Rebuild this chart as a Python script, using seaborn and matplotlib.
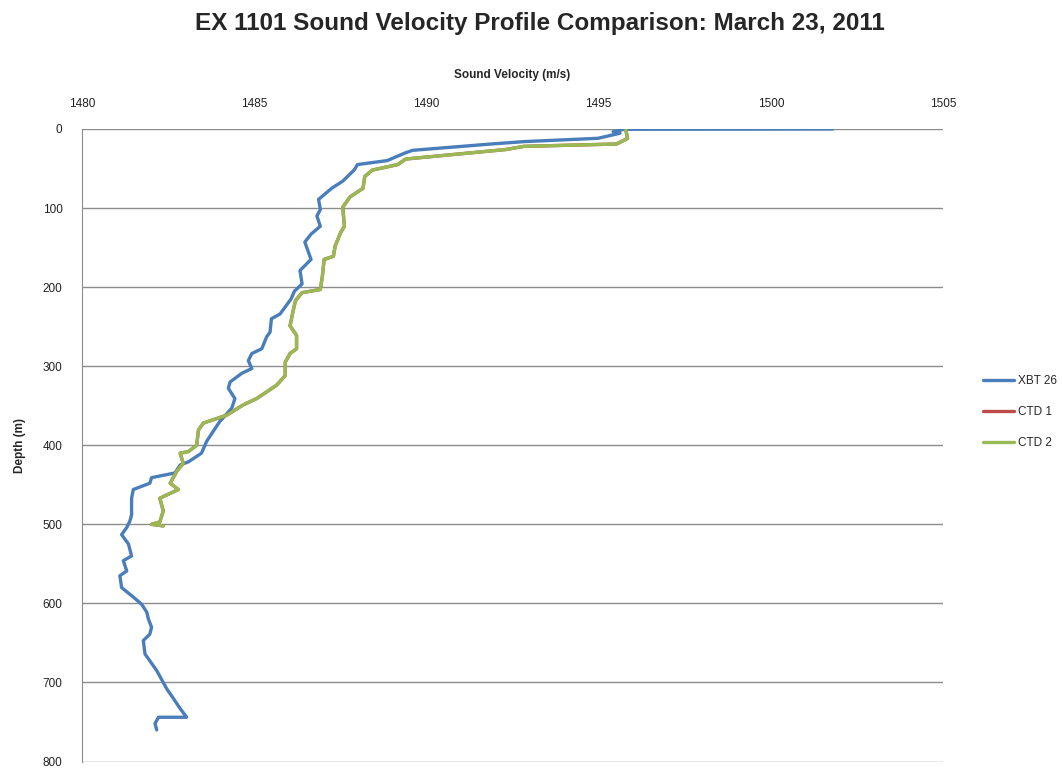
import matplotlib
matplotlib.use("Agg")
import matplotlib.pyplot as plt
import seaborn as sns
import pandas as pd

# XBT 26 profile (velocity m/s, depth m)
xbt_vel = [1501.8, 1495.74, 1495.42, 1495.62, 1494.98, 1492.83, 1491.88, 1489.6, 1489.4,
           1488.86, 1488.0, 1487.9, 1487.57, 1487.25, 1486.87, 1486.92, 1486.82, 1486.92,
           1486.65, 1486.47, 1486.65, 1486.33, 1486.39, 1486.17, 1486.07, 1485.75, 1485.5,
           1485.46, 1485.36, 1485.22, 1484.93, 1484.83, 1484.93, 1484.64, 1484.3, 1484.25,
           1484.44, 1484.35, 1484.0, 1483.8, 1483.62, 1483.47, 1483.09, 1482.85, 1482.7,
           1482.02, 1481.97, 1481.49, 1481.44, 1481.44, 1481.39, 1481.3, 1481.15, 1481.35,
           1481.44, 1481.2, 1481.3, 1481.1, 1481.15, 1481.49, 1481.73, 1481.88, 1481.93,
           1482.02, 1481.97, 1481.78, 1481.83, 1482.17, 1482.46, 1482.65, 1482.85, 1483.04,
           1482.22, 1482.12, 1482.17]
xbt_depth = [0, 0.4, 3.4, 5.4, 11.8, 16, 19, 27, 30,
             40, 45, 52, 66, 75, 89, 102, 110, 123,
             133, 143, 165, 179, 196, 205, 215, 234, 240,
             257, 263, 278, 284, 293, 303, 309, 320, 328,
             341, 353, 370, 383, 395, 410, 421, 425, 435,
             441, 448, 456, 467, 488, 496, 504, 513, 525,
             540, 546, 559, 565, 580, 592, 601, 611, 620,
             630, 639, 647, 664, 685, 708, 720, 733, 744,
             744, 752, 760]

# CTD 2 profile
ctd2_vel = [1495.79, 1495.84, 1495.52, 1492.83, 1492.3, 1489.4, 1489.17, 1488.43, 1488.21,
            1488.16, 1487.78, 1487.57, 1487.62, 1487.51, 1487.35, 1487.3, 1487.03, 1486.98,
            1486.92, 1486.39, 1486.2, 1486.14, 1486.04, 1486.23, 1486.23, 1486.04, 1485.9,
            1485.9, 1485.65, 1485.07, 1484.68, 1484.2, 1483.52, 1483.38, 1483.33, 1483.09,
            1482.85, 1482.94, 1482.75, 1482.56, 1482.8, 1482.26, 1482.36, 1482.26, 1482.02,
            1482.36]
ctd2_depth = [1.3, 12, 19, 22, 26, 38, 45, 52, 60,
              75, 86, 99, 123, 131, 148, 161, 165, 186,
              203, 207, 217, 228, 249, 261, 278, 284, 295,
              312, 324, 341, 349, 362, 372, 381, 400, 408,
              410, 423, 433, 448, 456, 467, 483, 497, 500,
              502]

# CTD 1 lies almost exactly under CTD 2
ctd1_vel = list(ctd2_vel)
ctd1_depth = list(ctd2_depth)

series = ["XBT 26", "CTD 1", "CTD 2"]
colors = ["#4A7EBB", "#BE4B48", "#98B954"]

frames = []
for name, v, d in zip(series, [xbt_vel, ctd1_vel, ctd2_vel], [xbt_depth, ctd1_depth, ctd2_depth]):
    frames.append(pd.DataFrame({"velocity": v, "depth": d, "series": name}))
df = pd.concat(frames, ignore_index=True)

sns.set_style("white")
plt.rcParams["font.family"] = ["Liberation Sans", "DejaVu Sans"]

fig = plt.figure(figsize=(10.62, 7.70), dpi=100)
ax = fig.add_axes([0.0772, 0.011, 0.888 - 0.0772, 0.8325 - 0.011])

sns.lineplot(data=df, x="velocity", y="depth", hue="series", hue_order=series,
             palette=colors, sort=False, estimator=None, linewidth=2.4, ax=ax)

ax.set_xlim(1480, 1505)
ax.set_ylim(800, 0)
ax.set_xticks(range(1480, 1506, 5))
ax.set_yticks(range(0, 801, 100))
ax.xaxis.tick_top()
ax.xaxis.set_label_position("top")
ax.tick_params(axis="both", length=0, labelsize=8.5, colors="#222222")
ax.tick_params(axis="x", pad=14)
ax.tick_params(axis="y", pad=14)
ax.yaxis.grid(True, color="#8C8C8C", linewidth=1)
ax.xaxis.grid(False)
for side in ["right", "bottom", "top"]:
    ax.spines[side].set_visible(False)
ax.spines["left"].set_color("#8C8C8C")

ax.set_xlabel("Sound Velocity (m/s)", fontsize=8.5, fontweight="bold", labelpad=14)
ax.set_ylabel("Depth (m)", fontsize=8.5, fontweight="bold", labelpad=12)

handles, labels = ax.get_legend_handles_labels()
ax.get_legend().remove()
fig.legend(handles, labels, loc="center left", bbox_to_anchor=(0.916, 0.465),
           frameon=False, fontsize=8.5, handlelength=2.6, labelspacing=1.6, handletextpad=0.3)

fig.suptitle("EX 1101 Sound Velocity Profile Comparison: March 23, 2011",
             fontsize=17.5, fontweight="bold", x=0.508, y=0.985)

fig.savefig("out.png", dpi=100)
